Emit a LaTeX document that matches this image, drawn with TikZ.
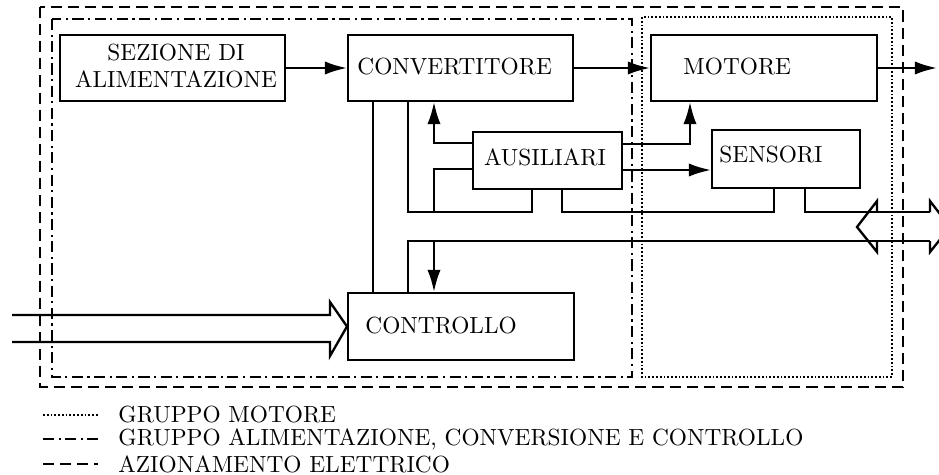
\documentclass[tikz,border=0pt]{standalone}
\usetikzlibrary{arrows.meta,fit}
\begin{document}
\begin{tikzpicture}[x=0.45pt,y=-0.45pt,
  box/.style={draw, line width=0.9pt, inner sep=0pt},
  txt/.style={inner sep=0pt, font=\fontsize{10.5}{12.4}\selectfont},
  wire/.style={line width=1.05pt},
  arr/.style={wire,-{Latex[length=10pt,width=6pt]}},
  azion/.style={line width=0.9pt, dash pattern=on 5pt off 2.7pt},
  gruppo/.style={line width=0.9pt, dash pattern=on 5pt off 2pt on 1pt off 2pt},
  motgrp/.style={line width=0.9pt, dash pattern=on 0.8pt off 0.9pt},
]
\useasboundingbox (0,0) rectangle (939,475);
% group frames
\draw[azion] (40,7) rectangle (903,387);
\draw[gruppo] (52,19) rectangle (632,377);
\draw[motgrp] (642,17) rectangle (892,377);
% boxes
\node[box, fit={(60,35)(285,101)}] (sez) {};
\node[box, fit={(348,35)(573,101)}] (conv) {};
\node[box, fit={(651,35)(877,101)}] (mot) {};
\node[box, fit={(473,132)(622,189)}] (aus) {};
\node[box, fit={(712,130)(860,188)}] (sen) {};
\node[box, fit={(348,293)(574,360)}] (ctl) {};
% texts
\node[txt, align=center] (sezt) at (176,66) {SEZIONE DI\\ALIMENTAZIONE};
\node[txt, anchor=west] (convt) at (357,67) {CONVERTITORE};
\node[txt, anchor=west] (mott) at (683,67) {MOTORE};
\node[txt] (aust) at (545,157) {AUSILIARI};
\node[txt, anchor=west] (sent) at (719,155) {SENSORI};
\node[txt, anchor=west] (ctlt) at (365,326) {CONTROLLO};
% helper coordinates
\coordinate (x373) at (373,0);
\coordinate (x408) at (408,0);
\coordinate (x434) at (434,0);
\coordinate (x532) at (532,0);
\coordinate (x562) at (562,0);
\coordinate (x690) at (690,0);
\coordinate (x774) at (774,0);
\coordinate (x805) at (805,0);
\coordinate (x877) at (877,0);
\coordinate (x930) at (930,0);
\coordinate (y143) at (0,143);
\coordinate (y144) at (0,144);
\coordinate (y169) at (0,169);
\coordinate (y170) at (0,170);
\coordinate (y212) at (0,212);
\coordinate (y241) at (0,241);
\coordinate (outR) at (937,68);
\coordinate (inA) at (12,315);
\coordinate (inB) at (12,342);
% connectors
\draw[arr] (sez.east) -- (conv.west);
\draw[arr] (conv.east) -- (mot.west);
\draw[arr] (mot.east) -- (outR);
\draw[wire] (conv.south -| x373) -- (ctl.north -| x373);
\draw[wire] (conv.south -| x408) -- (x408 |- y212) -| (aus.south -| x532);
\draw[wire] (aus.west |- y169) -| (x434 |- y212);
\draw[arr] (aus.west |- y143) -| (conv.south -| x434);
\draw[arr] (aus.east |- y144) -| (mot.south -| x690);
\draw[arr] (aus.east |- y170) -- (sen.west |- y170);
\draw[wire] (aus.south -| x562) -- (x562 |- y212) -| (sen.south -| x774);
\draw[wire] (sen.south -| x805) |- (x930 |- y212);
\draw[wire] (ctl.north -| x408) |- (x930 |- y241);
\draw[arr] (x434 |- y241) -- (ctl.north -| x434);
% bus heads
\draw[wire, line join=miter] (x877 |- y241) -- ++(0,11) -- ++(-20,-25) -- ++(20,-26) -- (x877 |- y212);
\draw[wire, line join=miter] (x930 |- y212) -- ++(0,-11) -- ++(20,26) -- ++(-20,25) -- (x930 |- y241);
% input to controllo
\draw[wire, line join=miter] (inA) -- (330,315) -- (330,302) -- (ctl.west) -- (330,356) -- (330,342) -- (inB);
% legend
\draw[motgrp] (43,415) -- (98,415);
\node[txt, anchor=west] (l1) at (118,415) {GRUPPO MOTORE};
\draw[gruppo] (43,439) -- (98,439);
\node[txt, anchor=west] (l2) at (118,439) {GRUPPO ALIMENTAZIONE, CONVERSIONE E CONTROLLO};
\draw[azion] (43,464) -- (98,464);
\node[txt, anchor=west] (l3) at (118,464) {AZIONAMENTO ELETTRICO};
\end{tikzpicture}
\end{document}
